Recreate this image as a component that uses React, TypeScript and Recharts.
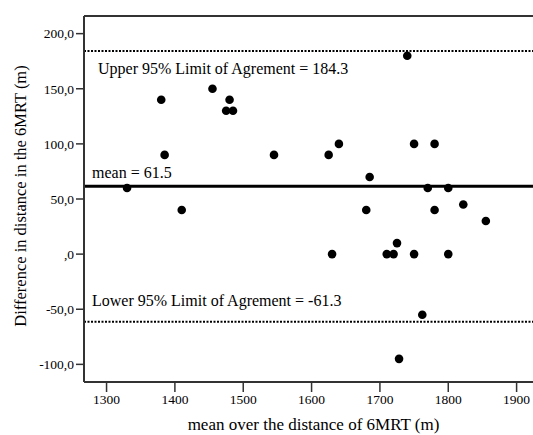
import { ReferenceLine, Scatter, ScatterChart, XAxis, YAxis } from 'recharts';

const meanValues = [
  1330, 1380, 1385, 1410, 1455, 1475, 1480, 1485, 1545, 1625, 1630, 1640, 1680, 1685, 1710,
  1720, 1725, 1728, 1740, 1750, 1750, 1762, 1770, 1780, 1780, 1800, 1800, 1822, 1855,
];
const diffValues = [
  60, 140, 90, 40, 150, 130, 140, 130, 90, 90, 0, 100, 40, 70, 0,
  0, 10, -95, 180, 100, 0, -55, 60, 100, 40, 60, 0, 45, 30,
];

const xTicks = [1300, 1400, 1500, 1600, 1700, 1800, 1900];
const yTicks = [-100, -50, 0, 50, 100, 150, 200];
const xDomain = [1267, 1924];
const yDomain = [-116, 216];

const meanDiff = 61.5;
const upperLimit = 184.3;
const lowerLimit = -61.3;

const points = meanValues.map((m, i) => ({ mean: m, diff: diffValues[i] }));

const FONT = '"Liberation Serif", "Times New Roman", serif';

const fmtY = (v: number) => (v === 0 ? ',0' : v.toFixed(1).replace('.', ','));

const lineLabel = (text: string, dx: number, dy: number) => (props: any) => {
  const vb = props.viewBox || {};
  return (
    <text
      x={(vb.x || 0) + dx}
      y={(vb.y || 0) + dy}
      fontFamily={FONT}
      fontSize={16}
      fill="#000"
      dominantBaseline="central"
    >
      {text}
    </text>
  );
};

export default function App() {
  return (
    <div style={{ position: 'absolute', left: 0, top: 0, width: 533, height: 435, background: '#fff' }}>
      <ScatterChart width={533} height={435} margin={{ top: 16, right: 0, bottom: 0, left: 0 }}>
        <XAxis
          type="number"
          dataKey="mean"
          domain={xDomain}
          ticks={xTicks}
          allowDataOverflow
          height={53}
          tickSize={10}
          tickMargin={2}
          axisLine={{ stroke: '#333', strokeWidth: 2 }}
          tickLine={{ stroke: '#333', strokeWidth: 1.5 }}
          tick={{ fontFamily: FONT, fontSize: 13.5, fill: '#000' }}
          label={(props: any) => {
            const vb = props.viewBox || {};
            return (
              <text
                x={(vb.x || 0) + (vb.width || 0) / 2 + 5}
                y={424}
                textAnchor="middle"
                dominantBaseline="central"
                fontFamily={FONT}
                fontSize={17}
                fill="#000"
              >
                mean over the distance of 6MRT (m)
              </text>
            );
          }}
        />
        <YAxis
          type="number"
          dataKey="diff"
          domain={yDomain}
          ticks={yTicks}
          allowDataOverflow
          width={84}
          tickSize={8}
          tickMargin={2}
          tickFormatter={fmtY}
          axisLine={{ stroke: '#333', strokeWidth: 2 }}
          tickLine={{ stroke: '#333', strokeWidth: 1.5 }}
          tick={{ fontFamily: FONT, fontSize: 13.5, fill: '#000' }}
          label={(props: any) => {
            const cy = 196;
            return (
              <text
                x={20}
                y={cy}
                transform={`rotate(-90, 20, ${cy})`}
                textAnchor="middle"
                dominantBaseline="central"
                fontFamily={FONT}
                fontSize={16.5}
                fill="#000"
              >
                Difference in distance in the 6MRT (m)
              </text>
            );
          }}
        />
        <ReferenceLine y={yDomain[1]} stroke="#333" strokeWidth={2} />
        <ReferenceLine
          y={upperLimit}
          stroke="#000"
          strokeWidth={2}
          strokeDasharray="2 1.5"
          label={lineLabel('Upper 95% Limit of Agrement = 184.3', 14, 18)}
        />
        <ReferenceLine
          y={meanDiff}
          stroke="#000"
          strokeWidth={3}
          label={lineLabel('mean = 61.5', 8, -14)}
        />
        <ReferenceLine
          y={lowerLimit}
          stroke="#000"
          strokeWidth={2}
          strokeDasharray="2 1.5"
          label={lineLabel('Lower 95% Limit of Agrement = -61.3', 8, -21)}
        />
        <Scatter
          data={points}
          isAnimationActive={false}
          shape={(p: any) => <circle cx={p.cx} cy={p.cy} r={4.3} fill="#000" />}
        />
      </ScatterChart>
    </div>
  );
}
